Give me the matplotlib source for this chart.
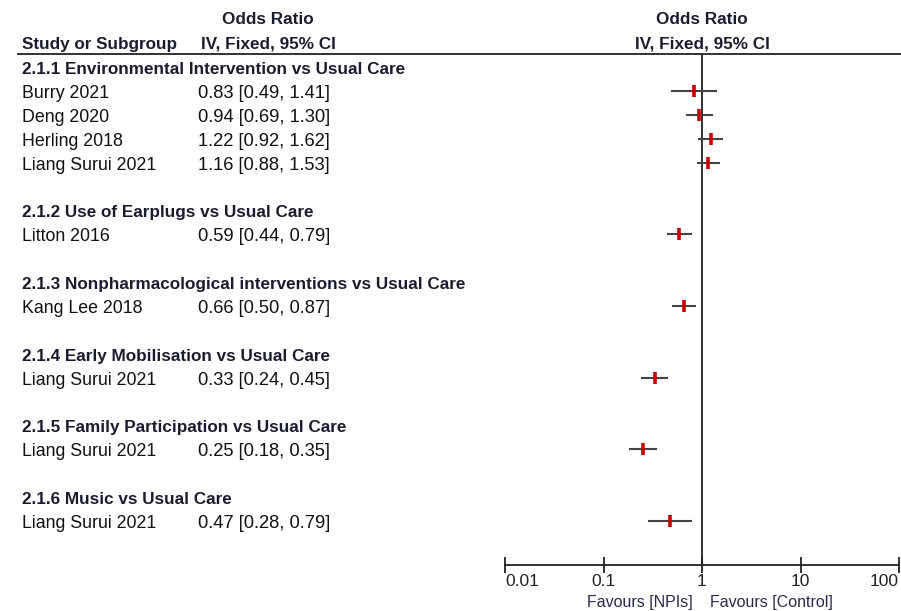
import numpy as np
import matplotlib.pyplot as plt
import matplotlib.transforms as mtransforms
from matplotlib.lines import Line2D
from matplotlib.ticker import FixedLocator, FixedFormatter

plt.rcParams['font.family'] = ['Liberation Sans', 'DejaVu Sans']

# Data
groups = [
    '2.1.1 Environmental Intervention vs Usual Care',
    '2.1.2 Use of Earplugs vs Usual Care',
    '2.1.3 Nonpharmacological interventions vs Usual Care',
    '2.1.4 Early Mobilisation vs Usual Care',
    '2.1.5 Family Participation vs Usual Care',
    '2.1.6 Music vs Usual Care',
]
group_members = [4, 1, 1, 1, 1, 1]
studies = ['Burry 2021', 'Deng 2020', 'Herling 2018', 'Liang Surui 2021',
           'Litton 2016', 'Kang Lee 2018', 'Liang Surui 2021',
           'Liang Surui 2021', 'Liang Surui 2021']
odds = [0.83, 0.94, 1.22, 1.16, 0.59, 0.66, 0.33, 0.25, 0.47]
lower = [0.49, 0.69, 0.92, 0.88, 0.44, 0.50, 0.24, 0.18, 0.28]
upper = [1.41, 1.30, 1.62, 1.53, 0.79, 0.87, 0.45, 0.35, 0.79]
tick_vals = [0.01, 0.1, 1, 10, 100]
tick_labels = ['0.01', '0.1', '1', '10', '100']

W, H = 901, 611
fig = plt.figure(figsize=(W / 100, H / 100), dpi=100)
fig.patch.set_facecolor('white')

def fx(px):
    return px / W

def fy(py):
    return 1 - py / H

# forest axes: x 505..899 px, y 54..565 px
ax = fig.add_axes([fx(505), fy(565), fx(899) - fx(505), (565 - 54) / H])
ax.set_xscale('log')
ax.set_xlim(0.01, 100)

row_px = 23.9
ax.set_ylim((565 - 67) / row_px, -13 / row_px)

txt = mtransforms.blended_transform_factory(fig.transFigure, ax.transData)
txt = mtransforms.offset_copy(txt, fig=fig, y=-2.5, units='dots')

head_col = '#1c1c30'
body_col = '#111111'
fs_bold = 12.3
fs_name = 12.8
fs_num = 13.2

# build rows
row = 0
k = 0
for g, n in zip(groups, group_members):
    fig.text(fx(22), row, g, transform=txt, fontsize=fs_bold, fontweight='bold',
             color=head_col, va='center', ha='left')
    row += 1
    for _ in range(n):
        fig.text(fx(22), row, studies[k], transform=txt, fontsize=fs_name,
                 color=body_col, va='center', ha='left')
        fig.text(fx(198), row, f'{odds[k]:.2f} [{lower[k]:.2f}, {upper[k]:.2f}]',
                 transform=txt, fontsize=fs_num, color=body_col, va='center', ha='left')
        ax.plot([lower[k], upper[k]], [row, row], color='#444444', lw=1.5,
                solid_capstyle='butt', zorder=2)
        ax.plot([odds[k], odds[k]], [row - 0.25, row + 0.25], color='#cc0000',
                lw=2.6, solid_capstyle='butt', zorder=3)
        row += 1
        k += 1
    row += 1

ax.axvline(1, color='#222222', lw=1.3, zorder=1)

# axis styling
for s in ['top', 'right', 'left']:
    ax.spines[s].set_visible(False)
ax.spines['bottom'].set_color('#222222')
ax.spines['bottom'].set_linewidth(1.3)
ax.set_yticks([])
ax.xaxis.set_major_locator(FixedLocator(tick_vals))
ax.xaxis.set_major_formatter(FixedFormatter(tick_labels))
ax.xaxis.set_minor_locator(FixedLocator([]))
ax.tick_params(axis='x', direction='inout', length=11, width=1.3,
               color='#222222', labelsize=12.6, labelcolor='#222222', pad=1)
labels = ax.get_xticklabels()
labels[0].set_ha('left')
labels[-1].set_ha('right')

# header
fig.text(fx(268), fy(19), 'Odds Ratio', fontsize=fs_bold, fontweight='bold',
         color=head_col, ha='center', va='center')
fig.text(fx(268), fy(44), 'IV, Fixed, 95% CI', fontsize=fs_bold, fontweight='bold',
         color=head_col, ha='center', va='center')
fig.text(fx(22), fy(44), 'Study or Subgroup', fontsize=fs_bold, fontweight='bold',
         color=head_col, ha='left', va='center')
fig.text(fx(702), fy(19), 'Odds Ratio', fontsize=fs_bold, fontweight='bold',
         color=head_col, ha='center', va='center')
fig.text(fx(702), fy(44), 'IV, Fixed, 95% CI', fontsize=fs_bold, fontweight='bold',
         color=head_col, ha='center', va='center')
fig.add_artist(Line2D([fx(18), 1.0], [fy(54), fy(54)], transform=fig.transFigure,
                      color='#222222', lw=1.3))

# favours labels
fig.text(fx(693), fy(602), 'Favours [NPIs]', fontsize=11.5, color='#2a2a50',
         ha='right', va='center')
fig.text(fx(710), fy(602), 'Favours [Control]', fontsize=11.5, color='#2a2a50',
         ha='left', va='center')

fig.savefig('out.png', dpi=100, facecolor='white')
